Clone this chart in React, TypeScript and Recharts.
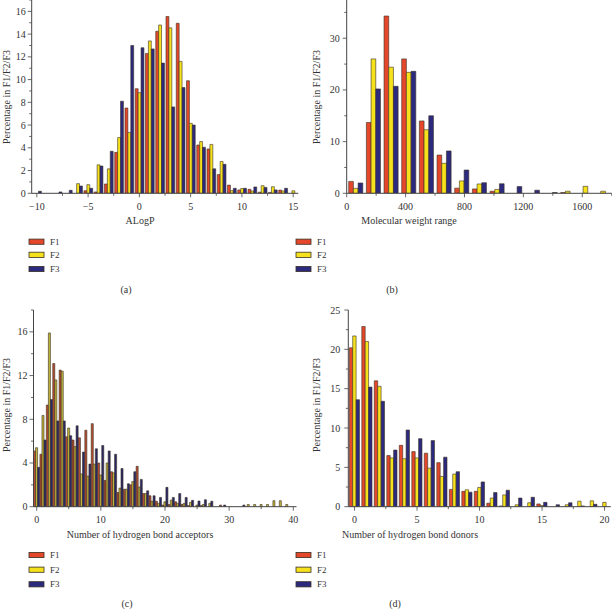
import { Bar, BarChart, XAxis, YAxis } from 'recharts';

const RED = '#e5472b';
const YELLOW = '#f6e21c';
const BLUE = '#2c2a7e';
const EDGE = '#3a3024';
const AXIS = '#444';
const TXT = '#333';
const FONT = '"Liberation Serif", "DejaVu Serif", serif';

// (a) ALogP, bins of width 1
const alogpBins = [-10, -9, -8, -7, -6, -5, -4, -3, -2, -1, 0, 1, 2, 3, 4, 5, 6, 7, 8, 9, 10, 11, 12, 13, 14, 15];
const alogpF1 = [0, 0, 0, 0, 0, 0.23, 0.12, 0.82, 3.6, 7.5, 9.2, 12.3, 14.25, 15.55, 14.95, 9.9, 4.25, 3.9, 1.65, 0.72, 0.3, 0.35, 0.1, 0.08, 0.28, 0];
const alogpF2 = [0, 0, 0, 0, 0.85, 0.76, 2.5, 2.15, 4.9, 5.35, 8.85, 13.4, 14.8, 14.55, 11.6, 6.15, 4.55, 4.3, 2.8, 0.23, 0.42, 0.2, 0.67, 0.58, 0.2, 0.22];
const alogpF3 = [0.18, 0, 0.12, 0.26, 0.64, 0.44, 2.4, 3.7, 8.1, 13.0, 12.8, 12.7, 11.45, 7.6, 9.3, 6.0, 4.05, 2.15, 2.55, 0.44, 0.44, 0.56, 0.52, 0.3, 0.44, 0];

// (b) molecular weight, bins of width 120
const mwBins = [60, 180, 300, 420, 540, 660, 780, 900, 1020, 1140, 1260, 1380, 1500, 1620, 1740];
const mwF1 = [2.3, 13.7, 34.3, 26.0, 14.0, 7.4, 1.0, 0.85, 0.4, 0, 0, 0, 0.15, 0, 0];
const mwF2 = [0.95, 26.0, 24.4, 23.4, 12.3, 5.8, 2.4, 1.8, 0.75, 0, 0, 0, 0.4, 1.35, 0.4];
const mwF3 = [2.0, 20.2, 20.7, 23.6, 15.0, 8.2, 4.5, 2.05, 1.85, 1.3, 0.6, 0.15, 0, 0, 0];

// (c) hydrogen bond acceptors
const hbaBins = Array.from({ length: 41 }, (_, i) => i);
const hbaF1 = [5.1, 4.8, 9.3, 13.1, 12.5, 6.4, 6.1, 6.3, 7.0, 7.6, 4.0, 2.4, 3.2, 1.3, 1.6, 2.0, 3.7, 1.2, 1.0, 0.5, 0.15, 0.2, 0.45, 0.2, 0.1, 0, 0.1, 0, 0, 0.15, 0, 0, 0, 0, 0, 0, 0, 0, 0, 0, 0];
const hbaF2 = [5.4, 8.35, 15.9, 11.6, 12.4, 7.2, 5.5, 3.0, 2.8, 3.9, 2.9, 4.0, 3.1, 1.7, 1.6, 2.3, 1.8, 1.2, 0.5, 0.3, 0.45, 0.6, 0.3, 0.3, 0.4, 0.15, 0.2, 0.3, 0, 0, 0, 0, 0, 0.2, 0.2, 0.2, 0.2, 0.55, 0.55, 0.2, 0];
const hbaF3 = [3.6, 6.1, 9.8, 7.85, 7.85, 6.5, 7.4, 5.0, 3.9, 5.3, 5.6, 5.1, 4.8, 3.5, 2.1, 3.2, 2.5, 1.45, 1.0, 0.85, 1.77, 0.85, 1.2, 0.85, 0.58, 0.52, 0.64, 0.5, 0, 0.15, 0, 0, 0.15, 0, 0, 0, 0, 0, 0, 0, 0];

// (d) hydrogen bond donors
const hbdBins = Array.from({ length: 21 }, (_, i) => i);
const hbdF1 = [20.2, 22.9, 16.0, 6.5, 7.8, 7.0, 6.8, 5.6, 2.2, 1.95, 1.95, 0.45, 0.1, 0, 0, 0.35, 0, 0, 0, 0, 0];
const hbdF2 = [21.7, 21.0, 15.3, 6.2, 6.1, 6.2, 4.9, 3.85, 4.15, 2.15, 2.45, 1.1, 1.5, 0.25, 0.5, 0.15, 0, 0.25, 0.7, 0.75, 0.55];
const hbdF3 = [13.6, 15.2, 13.4, 7.2, 9.75, 8.65, 8.4, 6.3, 4.45, 1.85, 3.15, 1.8, 2.1, 1.1, 1.2, 0.55, 0.25, 0.5, 0.1, 0.3, 0];

const rows = (bins: number[], a: number[], b: number[], c: number[]) =>
  bins.map((bin, i) => ({ bin, f1: a[i], f2: b[i], f3: c[i] }));

const range = (from: number, to: number, step: number) => {
  const out: number[] = [];
  for (let v = from; v <= to + 1e-9; v += step) out.push(+v.toFixed(3));
  return out;
};

const fmt = (v: number) => (v < 0 ? '\u2212' + Math.abs(v) : String(v));

function XTick(props: any) {
  const { x, y, payload, every } = props;
  const v = payload.value;
  const major = Math.abs(v / every - Math.round(v / every)) < 1e-6;
  return (
    <g>
      <line x1={x} x2={x} y1={y} y2={y + (major ? 4 : 2.5)} stroke={AXIS} strokeWidth={0.8} />
      {major && (
        <text x={x} y={y + 16.5} textAnchor="middle" fontSize={10} fill={TXT} fontFamily={FONT}>
          {fmt(v)}
        </text>
      )}
    </g>
  );
}

function YTick(props: any) {
  const { x, y, payload, every, gap } = props;
  const v = payload.value;
  const major = Math.abs(v / every - Math.round(v / every)) < 1e-6;
  return (
    <g>
      <line x1={x} x2={x - (major ? 4 : 2.5)} y1={y} y2={y} stroke={AXIS} strokeWidth={0.8} />
      {major && (
        <text x={x - gap} y={y + 3.5} textAnchor="end" fontSize={10} fill={TXT} fontFamily={FONT}>
          {v}
        </text>
      )}
    </g>
  );
}

function Panel(p: any) {
  const fills = p.fills || [RED, YELLOW, BLUE];
  return (
    <div style={{ position: 'absolute', left: p.left, top: p.top }}>
      <BarChart width={p.width} height={p.height} data={p.data} margin={p.margin} barGap={0} barSize={p.barSize}>
        <XAxis
          dataKey="bin"
          type="number"
          domain={p.xDomain}
          ticks={p.xTicks}
          interval={0}
          allowDataOverflow
          height={p.xHeight}
          tickSize={0}
          tickMargin={0}
          tickLine={false}
          axisLine={{ stroke: AXIS }}
          tick={(t: any) => <XTick {...t} every={p.xEvery} />}
        />
        <YAxis
          type="number"
          domain={p.yDomain}
          ticks={p.yTicks}
          interval={0}
          allowDataOverflow
          width={p.yWidth}
          tickSize={0}
          tickMargin={0}
          tickLine={false}
          axisLine={{ stroke: AXIS }}
          tick={(t: any) => <YTick {...t} every={p.yEvery} gap={p.yGap} />}
        />
        <Bar dataKey="f1" fill={fills[0]} stroke={EDGE} strokeWidth={0.6} isAnimationActive={false} />
        <Bar dataKey="f2" fill={fills[1]} stroke={EDGE} strokeWidth={0.6} isAnimationActive={false} />
        <Bar dataKey="f3" fill={fills[2]} stroke={EDGE} strokeWidth={0.6} isAnimationActive={false} />
      </BarChart>
    </div>
  );
}

function Legend({ x, ys }: { x: number; ys: number[] }) {
  const items = [
    ['F1', RED],
    ['F2', YELLOW],
    ['F3', BLUE],
  ];
  return (
    <g>
      {items.map(([name, color], i) => (
        <g key={name}>
          <rect x={x} y={ys[i] - 2.6} width={15} height={5.2} fill={color} stroke={EDGE} strokeWidth={0.8} />
          <text x={x + 21} y={ys[i] + 3} fontSize={9} fill={TXT} fontFamily={FONT}>
            {name}
          </text>
        </g>
      ))}
    </g>
  );
}

const YTitle = ({ x, y }: { x: number; y: number }) => (
  <text transform={`translate(${x},${y}) rotate(-90)`} textAnchor="middle" fontSize={10} fill={TXT} fontFamily={FONT}>
    Percentage in F1/F2/F3
  </text>
);

const Title = ({ x, y, children }: any) => (
  <text x={x} y={y} textAnchor="middle" fontSize={10} fill={TXT} fontFamily={FONT}>
    {children}
  </text>
);

export default function App() {
  const topRows = [241.7, 254.8, 269];
  const bottomRows = [555, 569.7, 584.3];
  return (
    <div style={{ position: 'absolute', left: 0, top: 0, width: 612, height: 610, background: '#fff' }}>
      <Panel
        left={0}
        top={0}
        width={300}
        height={215}
        margin={{ top: 0, right: 1.7, bottom: 0, left: 0 }}
        yWidth={31.7}
        xHeight={21.7}
        data={rows(alogpBins, alogpF1, alogpF2, alogpF3)}
        xDomain={[-10.5, 15.5]}
        xTicks={range(-10, 15, 2.5)}
        xEvery={5}
        yDomain={[0, 17]}
        yTicks={range(0, 17, 1)}
        yEvery={2}
        yGap={6}
        barSize={2.9}
      />
      <Panel
        left={300}
        top={0}
        width={312}
        height={215}
        margin={{ top: 0, right: 0.3, bottom: 0, left: 0 }}
        yWidth={46.7}
        xHeight={21.7}
        data={rows(mwBins, mwF1, mwF2, mwF3)}
        xDomain={[0, 1800]}
        xTicks={range(0, 1800, 200)}
        xEvery={400}
        yDomain={[0, 37.4]}
        yTicks={range(0, 35, 5)}
        yEvery={10}
        yGap={7}
        barSize={4.7}
      />
      <Panel
        left={0}
        top={300}
        width={300}
        height={230}
        margin={{ top: 10, right: 3.5, bottom: 0, left: 0 }}
        yWidth={33.5}
        xHeight={23.3}
        data={rows(hbaBins, hbaF1, hbaF2, hbaF3)}
        xDomain={[-0.5, 40.5]}
        xTicks={range(0, 40, 5)}
        xEvery={10}
        yDomain={[0, 18]}
        yTicks={range(0, 18, 2)}
        yEvery={4}
        yGap={6}
        barSize={2.05}
        fills={['#b84c30', '#c2b43a', '#2a286a']}
      />
      <Panel
        left={300}
        top={300}
        width={312}
        height={230}
        margin={{ top: 10, right: 1.2, bottom: 0, left: 0 }}
        yWidth={48.3}
        xHeight={23.3}
        data={rows(hbdBins, hbdF1, hbdF2, hbdF3)}
        xDomain={[-0.5, 20.5]}
        xTicks={range(0, 20, 2.5)}
        xEvery={5}
        yDomain={[0, 25]}
        yTicks={range(0, 25, 2.5)}
        yEvery={5}
        yGap={8}
        barSize={3.4}
      />
      <svg width={612} height={610} style={{ position: 'absolute', left: 0, top: 0, pointerEvents: 'none' }}>
        <YTitle x={9.5} y={97} />
        <YTitle x={320} y={97} />
        <YTitle x={9.5} y={405} />
        <YTitle x={320} y={405} />
        <Title x={140} y={224}>ALogP</Title>
        <Title x={409} y={224}>Molecular weight range</Title>
        <Title x={140} y={538}>Number of hydrogen bond acceptors</Title>
        <Title x={410} y={538}>Number of hydrogen bond donors</Title>
        <Legend x={29} ys={topRows} />
        <Legend x={296} ys={topRows} />
        <Legend x={29} ys={bottomRows} />
        <Legend x={296} ys={bottomRows} />
        <Title x={126} y={292.5}>(a)</Title>
        <Title x={392} y={292.5}>(b)</Title>
        <Title x={127} y={606.5}>(c)</Title>
        <Title x={395} y={606.5}>(d)</Title>
      </svg>
    </div>
  );
}
